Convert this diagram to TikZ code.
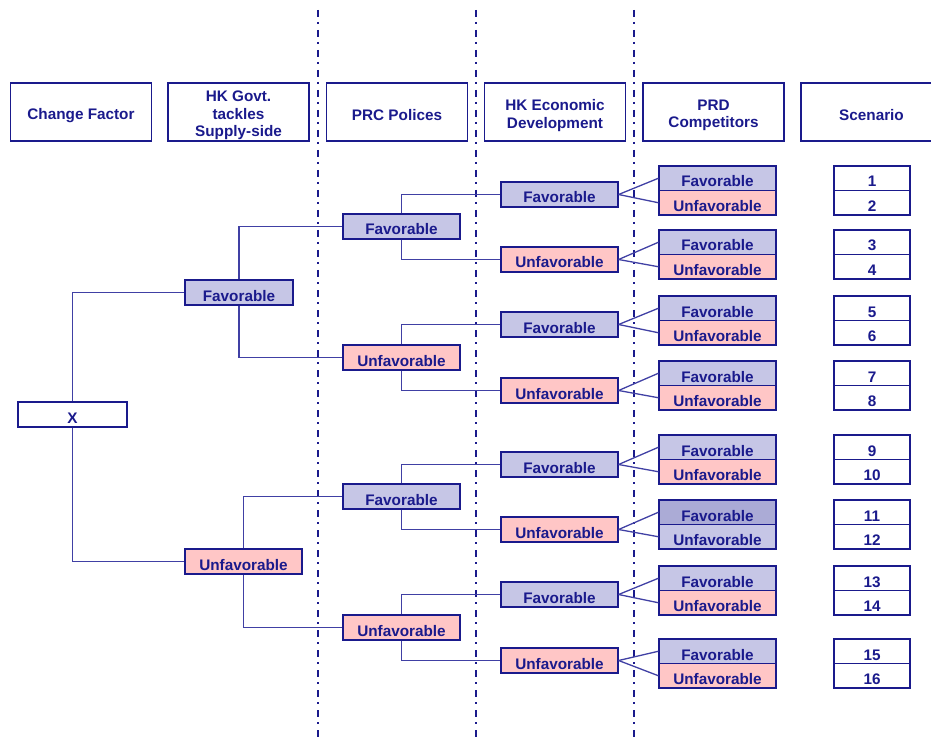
\documentclass[tikz,border=0pt]{standalone}
\usepackage{fontspec}
\setmainfont{Liberation Sans}
\definecolor{navy}{HTML}{1A1A8C}
\definecolor{wire}{HTML}{4040A4}
\definecolor{favfill}{HTML}{C6C6E6}
\definecolor{favdeep}{HTML}{ABABD6}
\definecolor{unfavfill}{HTML}{FFC6C6}
\begin{document}
\begin{tikzpicture}[x=1pt,y=-1pt,
  every node/.style={font=\bfseries\fontsize{15.3}{17.5}\selectfont, text=navy},
  heading/.style={draw=navy, line width=1.2pt, minimum width=141pt, minimum height=58pt, inner sep=0pt},
  headtext/.style={align=center, inner sep=0pt, yshift=-3.5pt},
  box/.style={draw=navy, line width=1.2pt, minimum width=117pt, minimum height=25pt, inner sep=0pt, text height=21pt, text depth=4pt},
  good/.style={box, fill=favfill},
  bad/.style={box, fill=unfavfill},
  half/.style={draw=navy, line width=1.2pt, minimum width=117pt, minimum height=24.5pt, inner sep=0pt, text height=21pt, text depth=3.5pt},
  pgood/.style={half, fill=favfill},
  pbad/.style={half, fill=unfavfill},
  pdeep/.style={half, fill=favdeep},
  scenario/.style={half, fill=white, minimum width=76pt},
  link/.style={draw=wire, line width=1.3pt},
  divide/.style={draw=navy, line width=1.8pt, dash pattern=on 7pt off 5pt on 2pt off 6pt},
]
\useasboundingbox (0,0) rectangle (931,751);

%dividers
\draw[divide] (318,10) -- (318,740);
\draw[divide] (476,10) -- (476,740);
\draw[divide] (634,10) -- (634,740);

%headers
\foreach \i/\x/\t in {1/81/Change Factor, 2/238.5/{HK Govt.\\tackles\\Supply-side}, 3/397/PRC Polices,
    4/555/{HK Economic\\Development}, 5/713.5/{PRD\\Competitors}, 6/871.5/Scenario}{
  \node[heading] (h\i) at (\x,112) {};
  \node[headtext] (t\i) at (h\i) {\t};
}

%L1 and L2
\node[box, fill=white, minimum width=109pt] (x) at (72.5,414.5) {X};
\node[good, minimum width=108pt] (g1) at (239,292.5) {Favorable};
\node[bad] (g2) at (243.5,561.5) {Unfavorable};
\draw[link] (x.north) |- (g1.west);
\draw[link] (x.south) |- (g2.west);

%L3
\node[good] (p1) at (401.5,226.5) {Favorable};
\node[bad]  (p2) at (401.5,357.5) {Unfavorable};
\node[good] (p3) at (401.5,496.5) {Favorable};
\node[bad]  (p4) at (401.5,627.5) {Unfavorable};
\draw[link] (g1.north) |- (p1.west);
\draw[link] (g1.south) |- (p2.west);
\draw[link] (g2.north) |- (p3.west);
\draw[link] (g2.south) |- (p4.west);

%L4
\node[good] (e1) at (559.5,194.5) {Favorable};
\node[bad]  (e2) at (559.5,259.5) {Unfavorable};
\node[good] (e3) at (559.5,324.5) {Favorable};
\node[bad]  (e4) at (559.5,390.5) {Unfavorable};
\node[good] (e5) at (559.5,464.5) {Favorable};
\node[bad]  (e6) at (559.5,529.5) {Unfavorable};
\node[good] (e7) at (559.5,594.5) {Favorable};
\node[bad]  (e8) at (559.5,660.5) {Unfavorable};
\draw[link] (p1.north) |- (e1.west);
\draw[link] (p1.south) |- (e2.west);
\draw[link] (p2.north) |- (e3.west);
\draw[link] (p2.south) |- (e4.west);
\draw[link] (p3.north) |- (e5.west);
\draw[link] (p3.south) |- (e6.west);
\draw[link] (p4.north) |- (e7.west);
\draw[link] (p4.south) |- (e8.west);

%L5 and scenarios
\foreach \n/\t/\hi/\lo/\e [evaluate=\n as \m using int(\n+1)] in
  {1/166/pgood/pbad/e1, 3/230/pgood/pbad/e2, 5/296/pgood/pbad/e3, 7/361/pgood/pbad/e4,
   9/435/pgood/pbad/e5, 11/500/pdeep/pgood/e6, 13/566/pgood/pbad/e7, 15/639/pgood/pbad/e8}{
  \node[\hi] (c\n) at (717.5,\t+12.25) {Favorable};
  \node[\lo] (c\m) at (717.5,\t+36.75) {Unfavorable};
  \node[scenario] (s\n) at (872,\t+12.25) {\n};
  \node[scenario] (s\m) at (872,\t+36.75) {\m};
  \draw[link] (\e.east) -- (c\n.west);
  \draw[link] (\e.east) -- (c\m.west);
}
\end{tikzpicture}
\end{document}
